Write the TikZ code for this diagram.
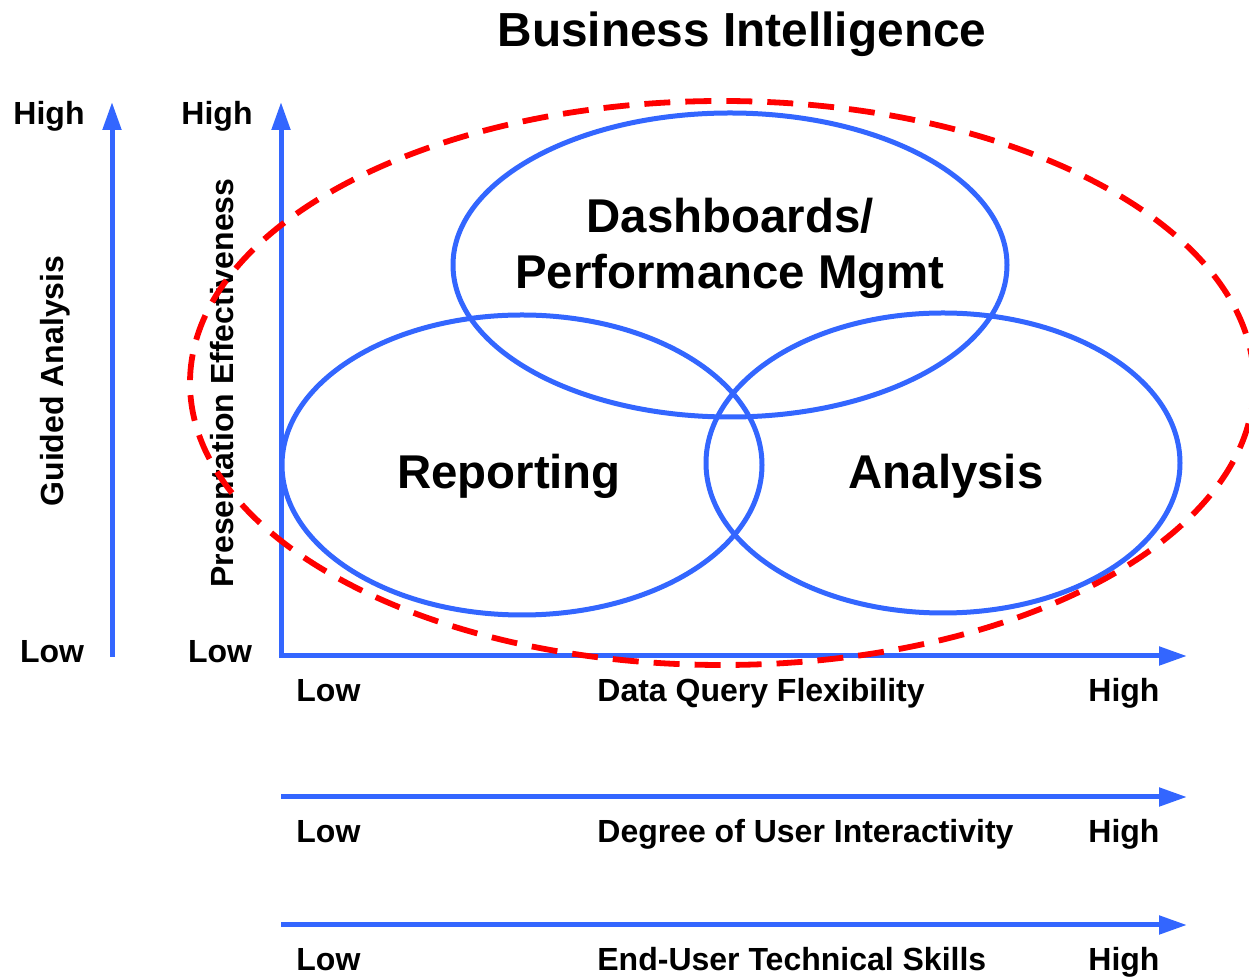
\documentclass[tikz,border=0pt]{standalone}
\usepackage{fontspec}
\setmainfont{Liberation Sans}
\usetikzlibrary{arrows.meta}
\definecolor{axisblue}{RGB}{51,102,255}
\definecolor{bired}{RGB}{255,0,0}
\begin{document}
\begin{tikzpicture}[x=0.5pt,y=-0.5pt,
  axis/.style={draw=axisblue,line width=2.5pt,-{Triangle[length=14pt,width=9pt]}},
  venn/.style={draw=axisblue,line width=2.5pt},
  scope/.style={draw=bired,line width=2.9pt,dash pattern=on 13pt off 7.5pt},
  small/.style={font=\fontsize{16}{18}\selectfont\bfseries,inner sep=0pt},
  big/.style={font=\fontsize{23.7}{26}\selectfont\bfseries,inner sep=0pt},
  title/.style={font=\fontsize{23.9}{26}\selectfont\bfseries,inner sep=0pt}]
\useasboundingbox (0,0) rectangle (1249,977);
% Venn ellipses
\draw[venn] (730,265) ellipse [x radius=277, y radius=152];
\draw[venn] (522,465) ellipse [x radius=240, y radius=150];
\draw[venn] (943,463) ellipse [x radius=237, y radius=150];
% axes
\coordinate (ga0) at (112,657); \coordinate (ga1) at (112,102);
\coordinate (pe0) at (281,657); \coordinate (pe1) at (281,102);
\coordinate (dq0) at (279,656); \coordinate (dq1) at (1187,656);
\coordinate (ui0) at (281,797); \coordinate (ui1) at (1187,797);
\coordinate (ts0) at (281,925); \coordinate (ts1) at (1187,925);
\draw[axis] (ga0) -- (ga1);
\draw[axis] (pe0) -- (pe1);
\draw[axis] (dq0) -- (dq1);
\draw[axis] (ui0) -- (ui1);
\draw[axis] (ts0) -- (ts1);
% title
\node[title,anchor=base] (t) at (742,47) {Business Intelligence};
% vertical axis labels
\node[small,anchor=base] (h1) at (49,125) {High};
\node[small,anchor=base] (h2) at (217,125) {High};
\node[small,anchor=base] (l1) at (52,663) {Low};
\node[small,anchor=base] (l2) at (220,663) {Low};
\node[small,rotate=90] (ga) at (55,381) {Guided Analysis};
\node[small,rotate=90] (pe) at (222,383) {Presentation Effectiveness};
% horizontal axis labels
\node[small,anchor=base west] (dql) at (296,702) {Low};
\node[small,anchor=base west] (dqt) at (597,702) {Data Query Flexibility};
\node[small,anchor=base west] (dqh) at (1088,702) {High};
\node[small,anchor=base west] (uil) at (296,843) {Low};
\node[small,anchor=base west] (uit) at (597,843) {Degree of User Interactivity};
\node[small,anchor=base west] (uih) at (1088,843) {High};
\node[small,anchor=base west] (tsl) at (296,971) {Low};
\node[small,anchor=base west] (tst) at (597,971) {End-User Technical Skills};
\node[small,anchor=base west] (tsh) at (1088,971) {High};
% Venn labels
\node[big,anchor=base] (d1) at (730,233) {Dashboards/};
\node[big,anchor=base] (d2) at (730,289) {Performance Mgmt};
\node[big,anchor=base] (rep) at (509,489) {Reporting};
\node[big,anchor=base] (ana) at (946,489) {Analysis};
% BI scope
\draw[scope] (722,383) ellipse [x radius=532, y radius=282];
\end{tikzpicture}
\end{document}
